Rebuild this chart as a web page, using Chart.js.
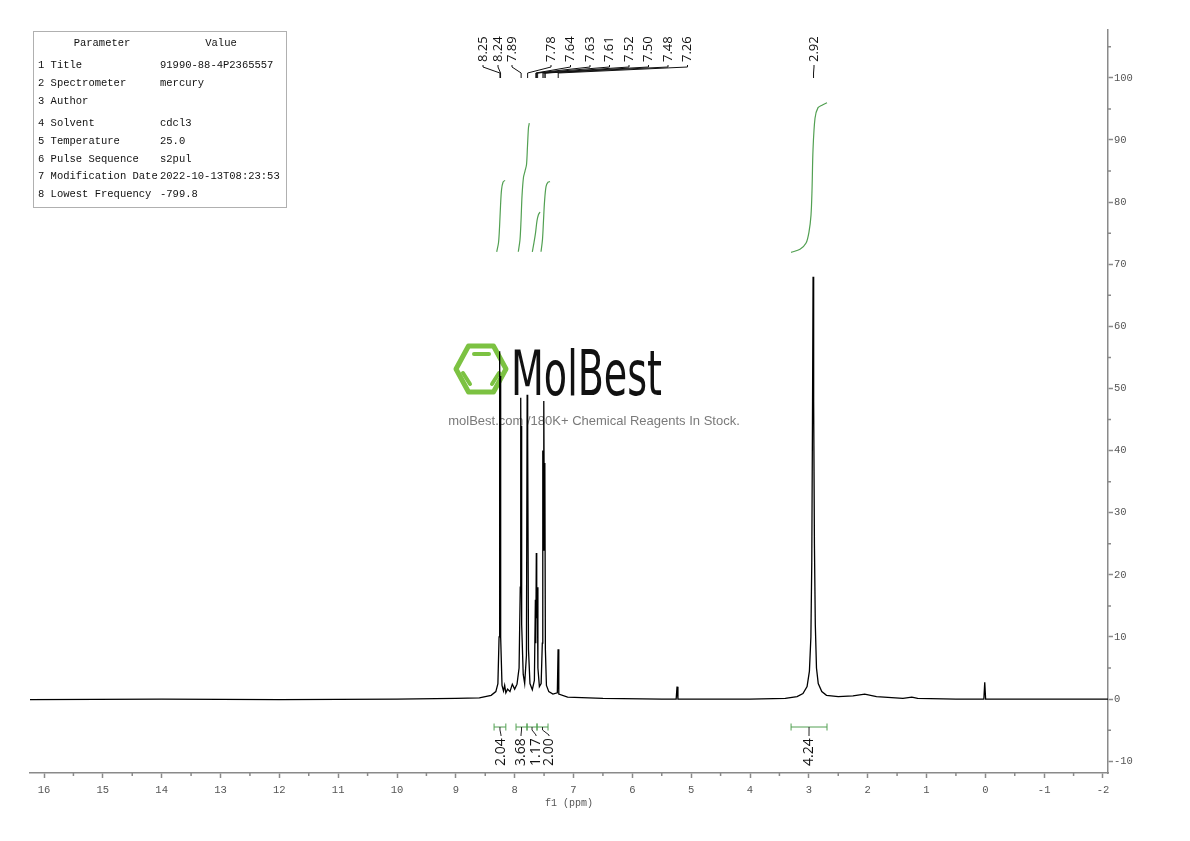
<!DOCTYPE html>
<html>
<head>
<meta charset="utf-8">
<script src="https://cdn.jsdelivr.net/npm/chart.js"></script>
<style>
  html, body { margin: 0; padding: 0; background: #fff; }
  canvas { display: block; }
</style>
</head>
<body>
<canvas id="nmrChart" width="1190" height="841"></canvas>
<script>
// spectrum trace (ppm, intensity)
const specPpm = [16.24, 14, 12, 10, 9, 8.6, 8.4, 8.32, 8.285, 8.265, 8.255, 8.249, 8.243, 8.233, 8.215, 8.19, 8.17, 8.15, 8.12, 8.08, 8.04, 8.0, 7.96, 7.925, 7.905, 7.897, 7.891, 7.886, 7.876, 7.855, 7.83, 7.80, 7.788, 7.782, 7.776, 7.765, 7.74, 7.70, 7.665, 7.648, 7.641, 7.632, 7.625, 7.615, 7.605, 7.58, 7.55, 7.53, 7.522, 7.514, 7.505, 7.496, 7.487, 7.478, 7.46, 7.42, 7.35, 7.275, 7.262, 7.25, 7.1, 6.5, 5.5, 5.255, 5.24, 5.225, 4, 3.4, 3.2, 3.1, 3.03, 2.99, 2.965, 2.95, 2.938, 2.928, 2.918, 2.905, 2.89, 2.87, 2.84, 2.78, 2.7, 2.5, 2.25, 2.05, 1.85, 1.4, 1.25, 1.15, 0.5, 0.025, 0.01, -0.005, -1, -2.085];
const specInt = [-0.1, 0, -0.1, 0, 0.1, 0.2, 0.6, 1.2, 2.5, 10, 56, 25, 52, 10, 2.2, 1.3, 2.2, 1.0, 1.6, 1.2, 2.4, 1.6, 2.4, 5, 18, 48.5, 30, 44, 12, 4, 2.5, 7, 49, 32, 42, 8, 2.5, 1.5, 3, 16, 9, 23.5, 13, 18, 5, 2, 2.5, 9, 40, 24, 48, 28, 38, 8, 2.2, 1.2, 0.8, 1.0, 8, 0.8, 0.3, 0.1, 0, 0, 2, 0, 0, 0.1, 0.4, 0.9, 2, 4.5, 10, 22, 45, 68, 48, 25, 12, 5, 2.5, 1.2, 0.6, 0.4, 0.5, 0.8, 0.4, 0.1, 0.3, 0.1, 0, 0, 2.7, 0, 0, 0];

// integral curves (ppm, height on the same axis)
const integralPpm = [
  [8.305, 8.274, 8.257, 8.240, 8.223, 8.198, 8.164],
  [7.938, 7.909, 7.892, 7.875, 7.850, 7.824, 7.799, 7.782, 7.765, 7.751],
  [7.700, 7.671, 7.646, 7.620, 7.595, 7.569],
  [7.552, 7.527, 7.510, 7.493, 7.467, 7.433, 7.399],
  [3.302, 3.150, 3.047, 2.997, 2.963, 2.946, 2.929, 2.895, 2.844, 2.776, 2.691]
];
const integralCurve = [
  [72.0, 73.5, 76, 79.5, 82, 83.2, 83.5],
  [72.0, 74, 77, 81, 84, 85, 86, 89, 92, 92.7],
  [72.0, 73.5, 75, 77, 78, 78.4],
  [72.0, 74, 77, 80, 82.5, 83.2, 83.3],
  [71.9, 72.4, 73.4, 75.2, 77.9, 81.9, 88.4, 93.5, 95.2, 95.6, 96.0]
];

// integration ranges and their values
const integralRanges = [[8.35, 8.15], [7.977, 7.790], [7.790, 7.620], [7.620, 7.433], [3.302, 2.691]];
const integralValues = ['2.04', '3.68', '1.17', '2.00', '4.24'];

// peak picks
const peakPpm = [8.25, 8.24, 7.89, 7.78, 7.64, 7.63, 7.61, 7.52, 7.50, 7.48, 7.26, 2.92];
const peakLabels = ['8.25', '8.24', '7.89', '7.78', '7.64', '7.63', '7.61', '7.52', '7.50', '7.48', '7.26', '2.92'];

// tick labels
const xTickLabels = [16, 15, 14, 13, 12, 11, 10, 9, 8, 7, 6, 5, 4, 3, 2, 1, 0, -1, -2];
const yTickLabels = [-10, 0, 10, 20, 30, 40, 50, 60, 70, 80, 90, 100];

// parameter table
const paramNames = ['1 Title', '2 Spectrometer', '3 Author', '4 Solvent', '5 Temperature', '6 Pulse Sequence', '7 Modification Date', '8 Lowest Frequency'];
const paramValues = ['91990-88-4P2365557', 'mercury', '', 'cdcl3', '25.0', 's2pul', '2022-10-13T08:23:53', '-799.8'];

const GREEN = 'rgb(82,160,82)';
const AXIS = '#8a8a8a';
const monoFont = '"Liberation Mono", monospace';

function toPoints(xs, ys) {
    return xs.map((x, i) => ({ x: x, y: ys[i] }));
}

const datasets = [{
    label: 'spectrum',
    data: toPoints(specPpm, specInt),
    borderColor: '#000',
    borderWidth: 1.3,
    pointRadius: 0,
    showLine: true,
    tension: 0
}];
integralPpm.forEach((xs, i) => {
    datasets.push({
        label: 'integral ' + (i + 1),
        data: toPoints(xs, integralCurve[i]),
        borderColor: GREEN,
        borderWidth: 1.2,
        pointRadius: 0,
        showLine: true,
        tension: 0.3
    });
});

// parameter box in the upper left
const tablePlugin = {
    id: 'paramTable',
    afterDraw(chart) {
        const ctx = chart.ctx;
        ctx.save();
        ctx.strokeStyle = '#b0b0b0';
        ctx.lineWidth = 1;
        ctx.strokeRect(33.5, 31.5, 253, 176);
        ctx.fillStyle = '#111';
        ctx.font = '10.5px ' + monoFont;
        ctx.textBaseline = 'middle';
        ctx.textAlign = 'center';
        ctx.fillText('Parameter', 102, 43);
        ctx.fillText('Value', 221, 43);
        ctx.textAlign = 'left';
        const rowY = [65, 83, 101, 123, 141, 159, 176, 194];
        paramNames.forEach((n, i) => {
            ctx.fillText(n, 38, rowY[i]);
            ctx.fillText(paramValues[i], 160, rowY[i]);
        });
        ctx.restore();
    }
};

// MolBest watermark, under the spectrum
const watermarkPlugin = {
    id: 'watermark',
    beforeDatasetsDraw(chart) {
        const ctx = chart.ctx;
        ctx.save();
        const cx = 481, cy = 369, rx = 25, ry = 23;
        ctx.strokeStyle = '#7cc242';
        ctx.lineWidth = 5;
        ctx.lineJoin = 'round';
        ctx.beginPath();
        ctx.moveTo(cx - rx, cy);
        ctx.lineTo(cx - rx / 2, cy - ry);
        ctx.lineTo(cx + rx / 2, cy - ry);
        ctx.lineTo(cx + rx, cy);
        ctx.lineTo(cx + rx / 2, cy + ry);
        ctx.lineTo(cx - rx / 2, cy + ry);
        ctx.closePath();
        ctx.stroke();
        ctx.lineCap = 'round';
        ctx.lineWidth = 4;
        ctx.beginPath();
        ctx.moveTo(cx - 7, cy - 15); ctx.lineTo(cx + 8, cy - 15);
        ctx.moveTo(cx - 18, cy + 4); ctx.lineTo(cx - 11, cy + 15);
        ctx.moveTo(cx + 18, cy + 4); ctx.lineTo(cx + 11, cy + 15);
        ctx.stroke();

        ctx.fillStyle = '#111';
        ctx.font = '62px "DejaVu Sans"';
        const w = ctx.measureText('MolBest').width;
        ctx.save();
        ctx.translate(511, 395);
        ctx.scale(151 / w, 1);
        ctx.textBaseline = 'alphabetic';
        ctx.fillText('MolBest', 0, 0);
        ctx.restore();

        ctx.fillStyle = '#7a7a7a';
        ctx.font = '13px "Liberation Sans"';
        ctx.textAlign = 'center';
        ctx.textBaseline = 'middle';
        ctx.fillText('molBest.com /180K+ Chemical Reagents In Stock.', 594, 421);
        ctx.restore();
    }
};

// peak labels on top with their leader lines
const peakLabelPlugin = {
    id: 'peakLabels',
    afterDraw(chart) {
        const ctx = chart.ctx;
        const xs = chart.scales.x;
        // label slots along the top row
        const slots = [483, 498, 512, 551, 570.5, 590, 609.5, 629, 648.5, 668, 687.5, 814];
        ctx.save();
        ctx.fillStyle = '#111';
        ctx.strokeStyle = '#111';
        ctx.lineWidth = 1;
        ctx.font = '13px "Open Sans"';
        ctx.textAlign = 'left';
        ctx.textBaseline = 'middle';
        peakLabels.forEach((t, i) => {
            const lx = slots[i];
            const px = xs.getPixelForValue(peakPpm[i]);
            ctx.save();
            ctx.translate(lx, 62);
            ctx.rotate(-Math.PI / 2);
            ctx.fillText(t, 0, 0);
            ctx.restore();
            ctx.beginPath();
            ctx.moveTo(lx, 65);
            ctx.lineTo(lx, 67);
            ctx.lineTo(px, 73);
            ctx.lineTo(px, 78);
            ctx.stroke();
        });
        ctx.restore();
    }
};

// integration brackets under the baseline
const integrationPlugin = {
    id: 'integrations',
    afterDraw(chart) {
        const ctx = chart.ctx;
        const xs = chart.scales.x;
        const labelX = [501, 521, 536, 549, 809];
        const y = 727;
        ctx.save();
        ctx.lineWidth = 1;
        integralRanges.forEach((r, i) => {
            const x1 = xs.getPixelForValue(r[0]);
            const x2 = xs.getPixelForValue(r[1]);
            const cx = (x1 + x2) / 2;
            ctx.strokeStyle = GREEN;
            ctx.beginPath();
            ctx.moveTo(x1, y); ctx.lineTo(x2, y);
            ctx.moveTo(x1, y - 3.5); ctx.lineTo(x1, y + 3.5);
            ctx.moveTo(x2, y - 3.5); ctx.lineTo(x2, y + 3.5);
            ctx.stroke();
            ctx.strokeStyle = '#222';
            ctx.beginPath();
            ctx.moveTo(cx, y);
            ctx.lineTo(cx, y + 3);
            ctx.lineTo(labelX[i], y + 8);
            ctx.lineTo(labelX[i], y + 9);
            ctx.stroke();
            ctx.save();
            ctx.fillStyle = '#111';
            ctx.font = '14px "Open Sans"';
            ctx.textAlign = 'left';
            ctx.textBaseline = 'middle';
            ctx.translate(labelX[i], 766);
            ctx.rotate(-Math.PI / 2);
            ctx.fillText(integralValues[i], 0, 0);
            ctx.restore();
        });
        ctx.restore();
    }
};

// half-step minor ticks on both axes
const minorTickPlugin = {
    id: 'minorTicks',
    afterDraw(chart) {
        const ctx = chart.ctx;
        const xs = chart.scales.x, ys = chart.scales.y;
        ctx.save();
        ctx.strokeStyle = AXIS;
        ctx.lineWidth = 1.5;
        ctx.beginPath();
        xTickLabels.slice(1).forEach(v => {
            const px = xs.getPixelForValue(v + 0.5);
            ctx.moveTo(px, xs.top);
            ctx.lineTo(px, xs.top + 3);
        });
        yTickLabels.concat([110]).forEach(v => {
            const val = v - 5;
            if (val < ys.min || val > ys.max) return;
            const py = ys.getPixelForValue(val);
            ctx.moveTo(ys.left, py);
            ctx.lineTo(ys.left + 3, py);
        });
        ctx.stroke();
        ctx.restore();
    }
};

const ctx = document.getElementById('nmrChart').getContext('2d');
const nmrChart = new Chart(ctx, {
    type: 'scatter',
    data: { datasets: datasets },
    options: {
        responsive: false,
        animation: false,
        devicePixelRatio: 1,
        layout: { padding: { left: 30, top: 30, right: 42, bottom: 28 } },
        plugins: {
            legend: { display: false },
            tooltip: { enabled: false }
        },
        scales: {
            x: {
                type: 'linear',
                reverse: true,
                min: -2.085,
                max: 16.238,
                position: 'bottom',
                afterBuildTicks: s => { s.ticks = xTickLabels.map(v => ({ value: v })); },
                afterFit: s => { s.height = 40; },
                grid: { drawOnChartArea: false, drawTicks: true, tickLength: 5, tickColor: AXIS, tickWidth: 1.5 },
                border: { display: true, color: AXIS, width: 1.5 },
                ticks: {
                    autoSkip: false,
                    maxRotation: 0,
                    padding: 6,
                    color: '#555',
                    font: { family: monoFont, size: 10.5 },
                    callback: v => String(v)
                },
                title: {
                    display: true,
                    text: 'f1 (ppm)',
                    color: '#555',
                    font: { family: monoFont, size: 10 },
                    padding: { top: 0, bottom: 4 }
                }
            },
            y: {
                type: 'linear',
                position: 'right',
                min: -11.9,
                max: 107.7,
                afterBuildTicks: s => { s.ticks = yTickLabels.map(v => ({ value: v })); },
                afterFit: s => { s.width = 40; },
                grid: { drawOnChartArea: false, drawTicks: true, tickLength: 5, tickColor: AXIS, tickWidth: 1.5 },
                border: { display: true, color: AXIS, width: 1.5 },
                ticks: {
                    autoSkip: false,
                    padding: 1,
                    color: '#555',
                    font: { family: monoFont, size: 10.5 },
                    callback: v => String(v)
                }
            }
        }
    },
    plugins: [watermarkPlugin, tablePlugin, peakLabelPlugin, integrationPlugin, minorTickPlugin]
});
</script>
</body>
</html>
